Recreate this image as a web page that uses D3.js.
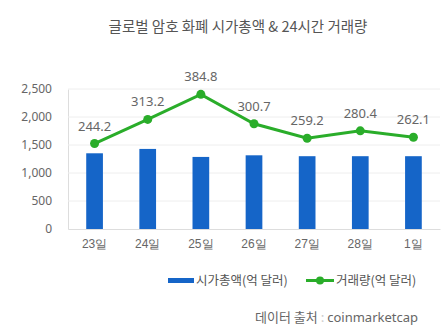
<!DOCTYPE html>
<html><head><meta charset="utf-8">
<script src="https://cdn.jsdelivr.net/npm/d3@7"></script>
<style>body{margin:0;background:#fff;}svg{display:block;font-family:"Noto Sans CJK KR","Noto Sans",sans-serif;}</style>
</head><body>
<script>
const categories = ["23일","24일","25일","26일","27일","28일","1일"];
const marketCap = [1352, 1430, 1287, 1316, 1300, 1300, 1300];
const volume = [244.2, 313.2, 384.8, 300.7, 259.2, 280.4, 262.1];
const yTicks = [0, 500, 1000, 1500, 2000, 2500];
const titleText = "글로벌 암호 화폐 시가총액 & 24시간 거래량";
const legendLabels = ["시가총액(억 달러)", "거래량(억 달러)"];

const W = 446, H = 331;
const m = {l: 68, r: 6, t: 89, b: 102};
const svg = d3.select("body").append("svg").attr("width", W).attr("height", H);

const x = d3.scaleBand().domain(categories).range([m.l, W - m.r]).paddingInner(0).paddingOuter(0);
const y = d3.scaleLinear().domain([0, 2500]).range([H - m.b, m.t]);
const y2 = d3.scaleLinear().domain([0, 400]).range([H - m.b, m.t]);

svg.append("text").attr("x", 238).attr("y", 32).attr("text-anchor", "middle")
  .attr("font-size", 14.5).attr("fill", "#555").text(titleText);

const yAxis = d3.axisLeft(y).tickValues(yTicks).tickFormat(d3.format(",")).tickSize(0).tickPadding(16);
const gy = svg.append("g").attr("transform", `translate(${m.l},0)`).call(yAxis);
gy.select(".domain").attr("stroke", "#ddd");
gy.selectAll("text").attr("font-size", 12).attr("fill", "#666").attr("font-family", "'Noto Sans', sans-serif");
svg.append("g").selectAll("line").data(yTicks.filter(d => d > 0)).join("line")
  .attr("x1", m.l).attr("x2", W - m.r).attr("y1", d => y(d)).attr("y2", d => y(d))
  .attr("stroke", "#eee");

const xAxis = d3.axisBottom(x).tickSize(0).tickPadding(10);
const gx = svg.append("g").attr("transform", `translate(0,${H - m.b})`).call(xAxis);
gx.select(".domain").attr("stroke", "#ddd");
gx.selectAll("text").attr("font-size", 12).attr("fill", "#666");

const bw = 16.7;
svg.append("g").selectAll("rect").data(categories).join("rect")
  .attr("x", d => x(d) + x.bandwidth() / 2 - bw / 2).attr("width", bw)
  .attr("y", (d, i) => y(marketCap[i])).attr("height", (d, i) => y(0) - y(marketCap[i]))
  .attr("fill", "#1565c8");

const cx = d => x(d) + x.bandwidth() / 2;
const line = d3.line().x((d, i) => cx(categories[i])).y(d => y2(d));
svg.append("path").datum(volume).attr("d", line).attr("fill", "none")
  .attr("stroke", "#2aad2a").attr("stroke-width", 3);
svg.append("g").selectAll("circle").data(volume).join("circle")
  .attr("cx", (d, i) => cx(categories[i])).attr("cy", d => y2(d)).attr("r", 4.5)
  .attr("fill", "#2aad2a");
svg.append("g").selectAll("text").data(volume).join("text")
  .attr("x", (d, i) => cx(categories[i])).attr("y", d => y2(d) - 13)
  .attr("text-anchor", "middle").attr("font-size", 13).attr("fill", "#666")
  .attr("font-family", "'Noto Sans', sans-serif")
  .text(d => d.toFixed(1));

const lg = svg.append("g");
lg.append("rect").attr("x", 168).attr("y", 278).attr("width", 26).attr("height", 5).attr("fill", "#1565c8");
lg.append("text").attr("x", 196).attr("y", 285).attr("font-size", 12.5).attr("fill", "#555").text(legendLabels[0]);
lg.append("line").attr("x1", 306).attr("x2", 334).attr("y1", 280.5).attr("y2", 280.5).attr("stroke", "#2aad2a").attr("stroke-width", 3);
lg.append("circle").attr("cx", 320).attr("cy", 280.5).attr("r", 4).attr("fill", "#2aad2a");
lg.append("text").attr("x", 336).attr("y", 285).attr("font-size", 12.5).attr("fill", "#555").text(legendLabels[1]);

const src = svg.append("text").attr("x", 418).attr("y", 322).attr("text-anchor", "end").attr("font-size", 13).attr("fill", "#666");
src.append("tspan").text("데이터 출처 ");
src.append("tspan").attr("fill", "#ccc").text(" : ");
src.append("tspan").attr("font-family", "'Noto Sans', sans-serif").text(" coinmarketcap");
</script>
</body></html>
